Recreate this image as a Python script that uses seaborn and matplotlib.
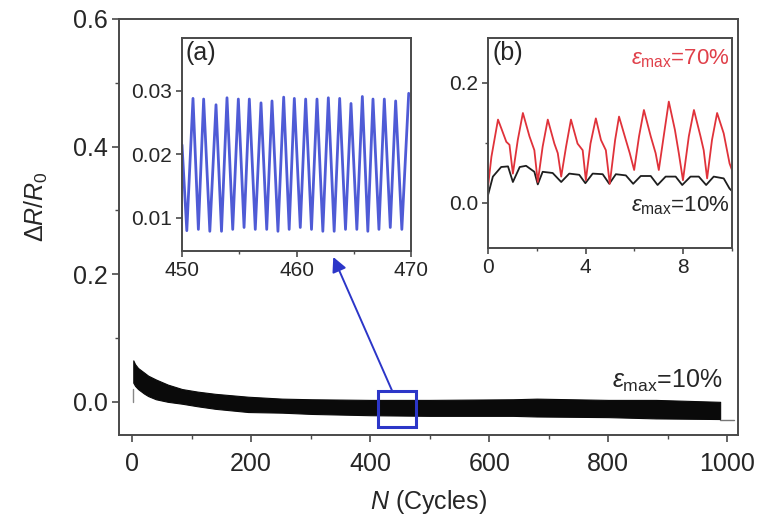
import numpy as np
import pandas as pd
import seaborn as sns
import matplotlib
matplotlib.use("Agg")
import matplotlib.pyplot as plt
from matplotlib.patches import Rectangle
from matplotlib.ticker import MultipleLocator

# ---------------- data ----------------
# main band: envelope of the per-cycle oscillation, eps_max = 10 %
band_n = [2, 5, 10, 20, 27, 40, 60, 84, 110, 140, 195, 252, 302, 400, 500, 640, 680, 800, 880, 988]
band_top = [0.065, 0.059, 0.053, 0.046, 0.041, 0.035, 0.027, 0.020, 0.016, 0.0125, 0.008, 0.005,
            0.004, 0.003, 0.003, 0.004, 0.005, 0.003, 0.003, 0.000]
band_bot = [0.030, 0.025, 0.020, 0.013, 0.009, 0.004, 0.000, -0.003, -0.007, -0.011, -0.016,
            -0.017, -0.019, -0.021, -0.022, -0.022, -0.023, -0.024, -0.026, -0.027]
start_n = [1, 1]
start_v = [0.0, 0.02]
tail_n = [988, 1012]
tail_v = [-0.028, -0.028]

# zoom box and arrow (main axes data coords)
box_n = [413, 477]
box_v = [-0.039, 0.017]
arrow_from = (437, 0.017)
arrow_to = (338, 0.227)

# inset (a): cycles 450-470
a_peak_n = [450.96, 451.89, 452.97, 453.93, 454.92, 455.88, 456.90, 457.86, 458.88, 459.81,
            460.80, 461.79, 462.78, 463.77, 464.76, 465.75, 466.68, 467.67, 468.66, 469.80]
a_peak_v = [0.0288, 0.0287, 0.0278, 0.0289, 0.0287, 0.0287, 0.0281, 0.0284, 0.0290, 0.0288,
            0.0287, 0.0287, 0.0289, 0.0288, 0.0280, 0.0291, 0.0287, 0.0287, 0.0284, 0.0296]
a_trough_n = [450.42, 451.43, 452.43, 453.45, 454.43, 455.42, 456.40, 457.40, 458.38, 459.36,
              460.33, 461.31, 462.30, 463.29, 464.28, 465.27, 466.23, 467.20, 468.19, 469.20]
a_trough_v = [0.0080, 0.0082, 0.0079, 0.0079, 0.0082, 0.0085, 0.0082, 0.0082, 0.0079, 0.0082,
              0.0085, 0.0082, 0.0079, 0.0079, 0.0082, 0.0082, 0.0079, 0.0082, 0.0085, 0.0082]
a_start_n = [450.0]
a_start_v = [0.0215]

# inset (b): first 10 cycles
b70_n = [0, 0.14, 0.41, 0.54, 0.75, 0.88, 1.02, 1.22, 1.43, 1.7, 1.9, 2.04, 2.24, 2.45, 2.72,
         2.86, 3.0, 3.2, 3.4, 3.67, 3.88, 4.01, 4.2, 4.42, 4.63, 4.83, 4.99, 5.21, 5.37, 5.65,
         5.81, 5.99, 6.19, 6.39, 6.67, 6.87, 7.0, 7.2, 7.41, 7.66, 7.82, 7.99, 8.23, 8.44,
         8.71, 8.84, 8.98, 9.18, 9.39, 9.66, 9.9, 10.0]
b70_v = [0.027, 0.077, 0.139, 0.125, 0.102, 0.097, 0.049, 0.105, 0.150, 0.111, 0.088, 0.035,
         0.094, 0.139, 0.099, 0.083, 0.044, 0.094, 0.139, 0.099, 0.088, 0.038, 0.099, 0.141,
         0.105, 0.088, 0.032, 0.105, 0.144, 0.105, 0.083, 0.055, 0.111, 0.155, 0.111, 0.083,
         0.055, 0.111, 0.169, 0.122, 0.083, 0.038, 0.111, 0.155, 0.111, 0.088, 0.041, 0.105,
         0.150, 0.116, 0.066, 0.055]
b10_n = [0, 0.2, 0.54, 0.82, 1.02, 1.3, 1.56, 1.9, 2.04, 2.24, 2.65, 3.0, 3.33, 3.74, 3.99,
         4.29, 4.7, 4.97, 5.24, 5.65, 5.95, 6.26, 6.67, 6.95, 7.28, 7.69, 7.96, 8.3, 8.64,
         8.94, 9.25, 9.66, 9.9, 10.0]
b10_v = [0.013, 0.044, 0.060, 0.061, 0.035, 0.060, 0.062, 0.052, 0.031, 0.052, 0.050, 0.035,
         0.049, 0.047, 0.033, 0.049, 0.048, 0.032, 0.048, 0.046, 0.032, 0.045, 0.045, 0.030,
         0.044, 0.044, 0.030, 0.044, 0.044, 0.030, 0.044, 0.041, 0.024, 0.020]

main_xticks = [0, 200, 400, 600, 800, 1000]
main_yticks = [0.0, 0.2, 0.4, 0.6]
a_xticks = [450, 460, 470]
a_yticks = [0.01, 0.02, 0.03]
b_xticks = [0, 4, 8]
b_yticks = [0.0, 0.2]

# ---------------- style ----------------
sns.set_style("ticks")
plt.rcParams["font.family"] = ["Liberation Sans", "DejaVu Sans"]
plt.rcParams["mathtext.fontset"] = "custom"
plt.rcParams["mathtext.rm"] = "Liberation Sans"
plt.rcParams["mathtext.it"] = "Liberation Sans:italic"
plt.rcParams["mathtext.bf"] = "Liberation Sans:bold"

TXT = "#262626"
SP = "#4a4a4a"
BLUE = "#2c36c8"


def style_axes(a, fs, major_len=5, minor_len=3, pad=3):
    for s in a.spines.values():
        s.set_color(SP)
        s.set_linewidth(1.4)
        s.set_visible(True)
    a.tick_params(which="major", direction="out", length=major_len, width=1.2,
                  color=SP, labelsize=fs, labelcolor=TXT, pad=pad)
    a.tick_params(which="minor", direction="out", length=minor_len, width=1.0, color=SP)
    a.tick_params(top=False, right=False)


fig = plt.figure(figsize=(7.64, 5.23), dpi=100)

# ---------------- main axes ----------------
ax = fig.add_axes([119 / 764, 1 - 435 / 523, (738 - 119) / 764, (435 - 19) / 523])
main_df = pd.DataFrame({"N": band_n, "top": band_top, "bot": band_bot})
ax.fill_between(main_df["N"], main_df["bot"], main_df["top"], color="#0a0a0a", lw=0.8,
                edgecolor="#0a0a0a")
sns.lineplot(x=start_n, y=start_v, ax=ax, color="#888888", lw=1.0, estimator=None, sort=False)
sns.lineplot(x=tail_n, y=tail_v, ax=ax, color="#777777", lw=1.0, estimator=None, sort=False)
ax.set_xlim(-22, 1018)
ax.set_ylim(-0.052, 0.6)
ax.set_xticks(main_xticks)
ax.set_xticklabels([str(t) for t in main_xticks])
ax.set_yticks(main_yticks)
ax.set_yticklabels([f"{t:.1f}" for t in main_yticks])
ax.xaxis.set_minor_locator(MultipleLocator(100))
ax.yaxis.set_minor_locator(MultipleLocator(0.1))
style_axes(ax, 18)
ax.tick_params(axis="x", which="major", pad=7)
ax.set_xlabel(r"$\it{N}$ (Cycles)", fontsize=18, color=TXT, labelpad=9)
ax.set_ylabel(r"$\it{\Delta R/R}_{\rm 0}$", fontsize=18, color=TXT)
ax.yaxis.set_label_coords(-0.112, 0.55)

ax.add_patch(Rectangle((box_n[0], box_v[0]), box_n[1] - box_n[0], box_v[1] - box_v[0],
                       fill=False, edgecolor=BLUE, lw=2.2, zorder=5))
ax.annotate("", xy=arrow_to, xytext=arrow_from,
            arrowprops=dict(arrowstyle="-|>", color=BLUE, lw=1.4, mutation_scale=22,
                            shrinkA=0, shrinkB=0), zorder=6)
ax.text(0.975, 0.13, r"$\varepsilon_{\rm max}$=10%", transform=ax.transAxes, ha="right",
        va="center", fontsize=18, color=TXT)

# ---------------- inset (a) ----------------
axa = fig.add_axes([182 / 764, 1 - 251 / 523, (411 - 182) / 764, (251 - 38) / 523])
a_n = a_start_n + a_trough_n + a_peak_n
a_v = a_start_v + a_trough_v + a_peak_v
a_df = pd.DataFrame({"N": a_n, "v": a_v}).sort_values("N")
sns.lineplot(data=a_df, x="N", y="v", ax=axa, color="#4f5bd6", lw=2.0, estimator=None, sort=True)
axa.set_xlim(450, 470)
axa.set_ylim(0.0048, 0.0383)
axa.set_xticks(a_xticks)
axa.set_yticks(a_yticks)
axa.set_yticklabels([f"{t:.2f}" for t in a_yticks])
axa.xaxis.set_minor_locator(MultipleLocator(5))
style_axes(axa, 15, major_len=4, minor_len=2.5)
axa.set_xlabel("")
axa.set_ylabel("")
axa.text(0.015, 0.985, "(a)", transform=axa.transAxes, ha="left", va="top", fontsize=18,
         color=TXT)

# ---------------- inset (b) ----------------
axb = fig.add_axes([488 / 764, 1 - 248 / 523, (732 - 488) / 764, (248 - 38) / 523])
sns.lineplot(x=b10_n, y=b10_v, ax=axb, color="#1e1e1e", lw=1.3, estimator=None, sort=False)
sns.lineplot(x=b70_n, y=b70_v, ax=axb, color="#e0323a", lw=1.3, estimator=None, sort=False)
axb.set_xlim(0, 10)
axb.set_ylim(-0.075, 0.275)
axb.set_xticks(b_xticks)
axb.set_yticks(b_yticks)
axb.set_yticklabels([f"{t:.1f}" for t in b_yticks])
axb.xaxis.set_minor_locator(MultipleLocator(2))
axb.yaxis.set_minor_locator(MultipleLocator(0.1))
style_axes(axb, 15, major_len=4, minor_len=2.5)
axb.set_xlabel("")
axb.set_ylabel("")
axb.text(0.02, 0.985, "(b)", transform=axb.transAxes, ha="left", va="top", fontsize=18,
         color=TXT)
axb.text(0.99, 0.9, r"$\varepsilon_{\rm max}$=70%", transform=axb.transAxes, ha="right",
         va="center", fontsize=16, color="#e0404a")
axb.text(0.99, 0.2, r"$\varepsilon_{\rm max}$=10%", transform=axb.transAxes, ha="right",
         va="center", fontsize=16, color=TXT)

fig.savefig("out.png", dpi=100)
